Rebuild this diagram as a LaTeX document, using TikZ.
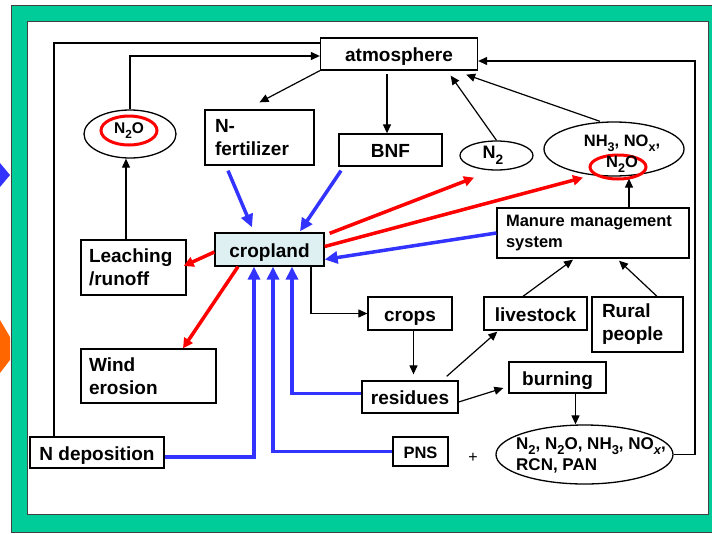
\documentclass[tikz,border=0pt]{standalone}
\usepackage{fontspec}
\setmainfont{Liberation Sans}
\usetikzlibrary{arrows.meta,shapes.geometric}
\definecolor{framegreen}{RGB}{0,204,153}
\definecolor{flowblue}{RGB}{51,51,255}
\definecolor{flowred}{RGB}{255,0,0}
\definecolor{croptint}{RGB}{222,240,242}
\definecolor{tabor}{RGB}{255,102,0}
\newcommand{\chsub}[1]{\raisebox{-.32em}{\scalebox{.76}{#1}}}
\tikzset{
  box/.style={draw, line width=1.3pt, fill=white, inner sep=0pt, font=\bfseries\fontsize{19}{23}\selectfont},
  sbox/.style={box, text height=15pt, text depth=0pt},
  lbox/.style={box, align=left},
  oval/.style={draw, ellipse, line width=1.3pt, fill=white, inner sep=0pt},
  ring/.style={draw=flowred, ellipse, line width=3pt, inner sep=0pt},
  gas/.style={inner sep=0pt, font=\bfseries\fontsize{16.5}{21}\selectfont},
  flow/.style={line width=1.2pt, -{Triangle[length=9pt,width=8pt]}},
  inflow/.style={draw=flowblue, line width=3.5pt, -{Triangle[length=13pt,width=12pt]}},
  loss/.style={draw=flowred, line width=3.5pt, -{Triangle[length=10pt,width=10pt]}}
}
\begin{document}
\begin{tikzpicture}[x=1pt, y=-1pt]
    \useasboundingbox (0,0) rectangle (712,533);
    \clip (0,0) rectangle (712,533);
    \fill[flowblue] (0,163) -- (10,175) -- (0,187) -- cycle;
    \fill[tabor] (0,320) -- (10,337) -- (10,360) -- (0,373) -- cycle;
    \filldraw[fill=framegreen, draw=black!75, line width=1pt, even odd rule]
    (11,5) rectangle (716,532) (27,21) rectangle (708,514);

    \node[sbox, minimum width=157pt, minimum height=32pt] (atm) at (399,54) {atmosphere};
    \node[lbox, inner xsep=10pt, text width=89pt, minimum height=55pt] (nfert) at (259.5,137.5) {N-\\fertilizer};
    \node[sbox, minimum width=103pt, minimum height=32pt] (bnf) at (390.5,150) {BNF};
    \node[sbox, fill=croptint, minimum width=109pt, minimum height=33pt] (crop) at (269.5,249.5) {cropland};
    \node[lbox, inner xsep=8pt, text width=89pt, minimum height=55pt] (leach) at (133.5,267.5) {Leaching\\/runoff};
    \node[lbox, inner xsep=8pt, text width=119pt, minimum height=54pt] (wind) at (148.5,376) {Wind\\erosion};
    \node[sbox, minimum width=134pt, minimum height=31pt] (ndep) at (97,452.5) {N deposition};
    \node[lbox, inner xsep=9pt, text width=174pt, minimum height=50pt, font=\bfseries\fontsize{16.5}{21}\selectfont] (manure) at (593,233) {Manure management\\system};
    \node[sbox, minimum width=84pt, minimum height=33pt] (crops) at (410,313.5) {crops};
    \node[sbox, minimum width=103pt, minimum height=33pt] (live) at (535.5,313.5) {livestock};
    \node[lbox, inner xsep=10pt, text width=71pt, minimum height=55pt] (rural) at (637.5,324.5) {Rural\\people};
    \node[sbox, minimum width=96pt, minimum height=32pt] (resid) at (410,397) {residues};
    \node[sbox, minimum width=97pt, minimum height=31pt] (burn) at (557.5,377.5) {burning};
    \node[sbox, minimum width=55pt, minimum height=29pt, text height=13pt, font=\bfseries\fontsize{16.5}{19}\selectfont] (pns) at (420.5,451.5) {PNS};
    \node[font=\fontsize{16}{19}\selectfont] (plus) at (473,458) {+};

    \node[oval, minimum width=92pt, minimum height=48pt] (n2oL) at (130,134) {};
    \node[ring, minimum width=56pt, minimum height=29pt] (ringL) at (129,130.5) {};
    \node[gas, font=\bfseries\fontsize{15.5}{18}\selectfont] (n2oLtxt) at (129,130.5) {N\chsub{2}O};
    \node[oval, minimum width=73pt, minimum height=29pt] (n2) at (496.5,155.5) {};
    \node[gas, font=\bfseries\fontsize{18}{21}\selectfont] (n2txt) at (493,155.5) {N\chsub{2}};
    \node[oval, minimum width=140pt, minimum height=54pt] (nh) at (614,149) {};
    \node[ring, minimum width=56pt, minimum height=24pt] (ringR) at (618,167) {};
    \node[gas, align=center] (nhtxt) at (622,154) {NH\chsub{3}, NO\chsub{x},\\N\chsub{2}O};
    \node[oval, minimum width=177pt, minimum height=59pt] (bot) at (584.5,454.5) {};
    \node[gas, align=left, anchor=west, font=\bfseries\fontsize{17}{21}\selectfont] (bottxt) at (516,455) {N\chsub{2}, N\chsub{2}O, NH\chsub{3}, NO\chsub{\itshape x},\\RCN, PAN};

    \coordinate (rc) at (695,61);

    \draw[line width=1.2pt] ([xshift=-43pt]ndep.north) |- ([yshift=11pt]atm.west);
    \draw[flow] (n2oL.north) |- ([yshift=-2pt]atm.west);
    \draw[flow] (atm.south west) -- ([yshift=7pt]nfert.north);
    \draw[flow] ([xshift=-12pt,yshift=-3pt]atm.south) -- ([xshift=-3.5pt]bnf.north);
    \draw[flow] (n2.north) -- ([xshift=-27.5pt,yshift=-5pt]atm.south east);
    \draw[flow] ([xshift=-14pt]nh.north) -- ([xshift=-12pt,yshift=-4pt]atm.south east);
    \draw[flow] (bot.east) -| (rc) -- ([yshift=-7pt]atm.east);
    \draw[flow] ([xshift=-7.5pt]leach.north) -- ([xshift=-4pt]n2oL.south);
    \draw[flow] ([xshift=36pt]manure.north) -- ([xshift=15pt,yshift=-2pt]nh.south);
    \draw[flow] ([xshift=-12.5pt]live.north) -- ([xshift=-20pt,yshift=-1pt]manure.south);
    \draw[flow] ([xshift=19.5pt]rural.north) -- ([xshift=26pt,yshift=-2pt]manure.south);
    \draw[flow] ([xshift=41.5pt]crop.south) |- (crops.west);
    \draw[flow] ([xshift=3.5pt]crops.south) -- ([xshift=3.5pt,yshift=6pt]resid.north);
    \draw[flow] ([xshift=-12pt,yshift=4pt]resid.north east) -- ([xshift=14pt,yshift=-1pt]live.south west);
    \draw[flow] ([yshift=-5pt]resid.east) -- ([xshift=-5pt,yshift=-10.5pt]burn.west);
    \draw[flow] ([xshift=18pt]burn.south) -- ([xshift=-9pt]bot.north);

    \draw[inflow] ([xshift=-31.5pt,yshift=-5pt]nfert.south) -- ([xshift=-17.5pt,yshift=5pt]crop.north);
    \draw[inflow] ([xshift=-49.5pt,yshift=-4pt]bnf.south) -- ([xshift=30.5pt,yshift=1pt]crop.north);
    \draw[inflow] (manure.west) -- ([yshift=-10pt]crop.east);
    \draw[inflow] ([yshift=-4.5pt]ndep.east) -| ([xshift=-15.5pt]crop.south);
    \draw[inflow] (pns.west) -| ([xshift=3.5pt]crop.south);
    \draw[inflow] ([yshift=3.5pt]resid.west) -| ([xshift=22.5pt]crop.south);

    \draw[loss] ([yshift=-2.5pt]crop.west) -- ([xshift=-3pt,yshift=1.5pt]leach.east);
    \draw[loss] ([xshift=-31.5pt]crop.south) -- ([xshift=34.5pt]wind.north);
    \draw[loss] ([xshift=5pt,yshift=-1pt]crop.north east) -- ([xshift=-22.5pt,yshift=-7pt]n2.south);
    \draw[loss] ([yshift=3pt]crop.east) -- ([xshift=-31pt,yshift=-1pt]nh.south);
  \end{tikzpicture}
\end{document}
